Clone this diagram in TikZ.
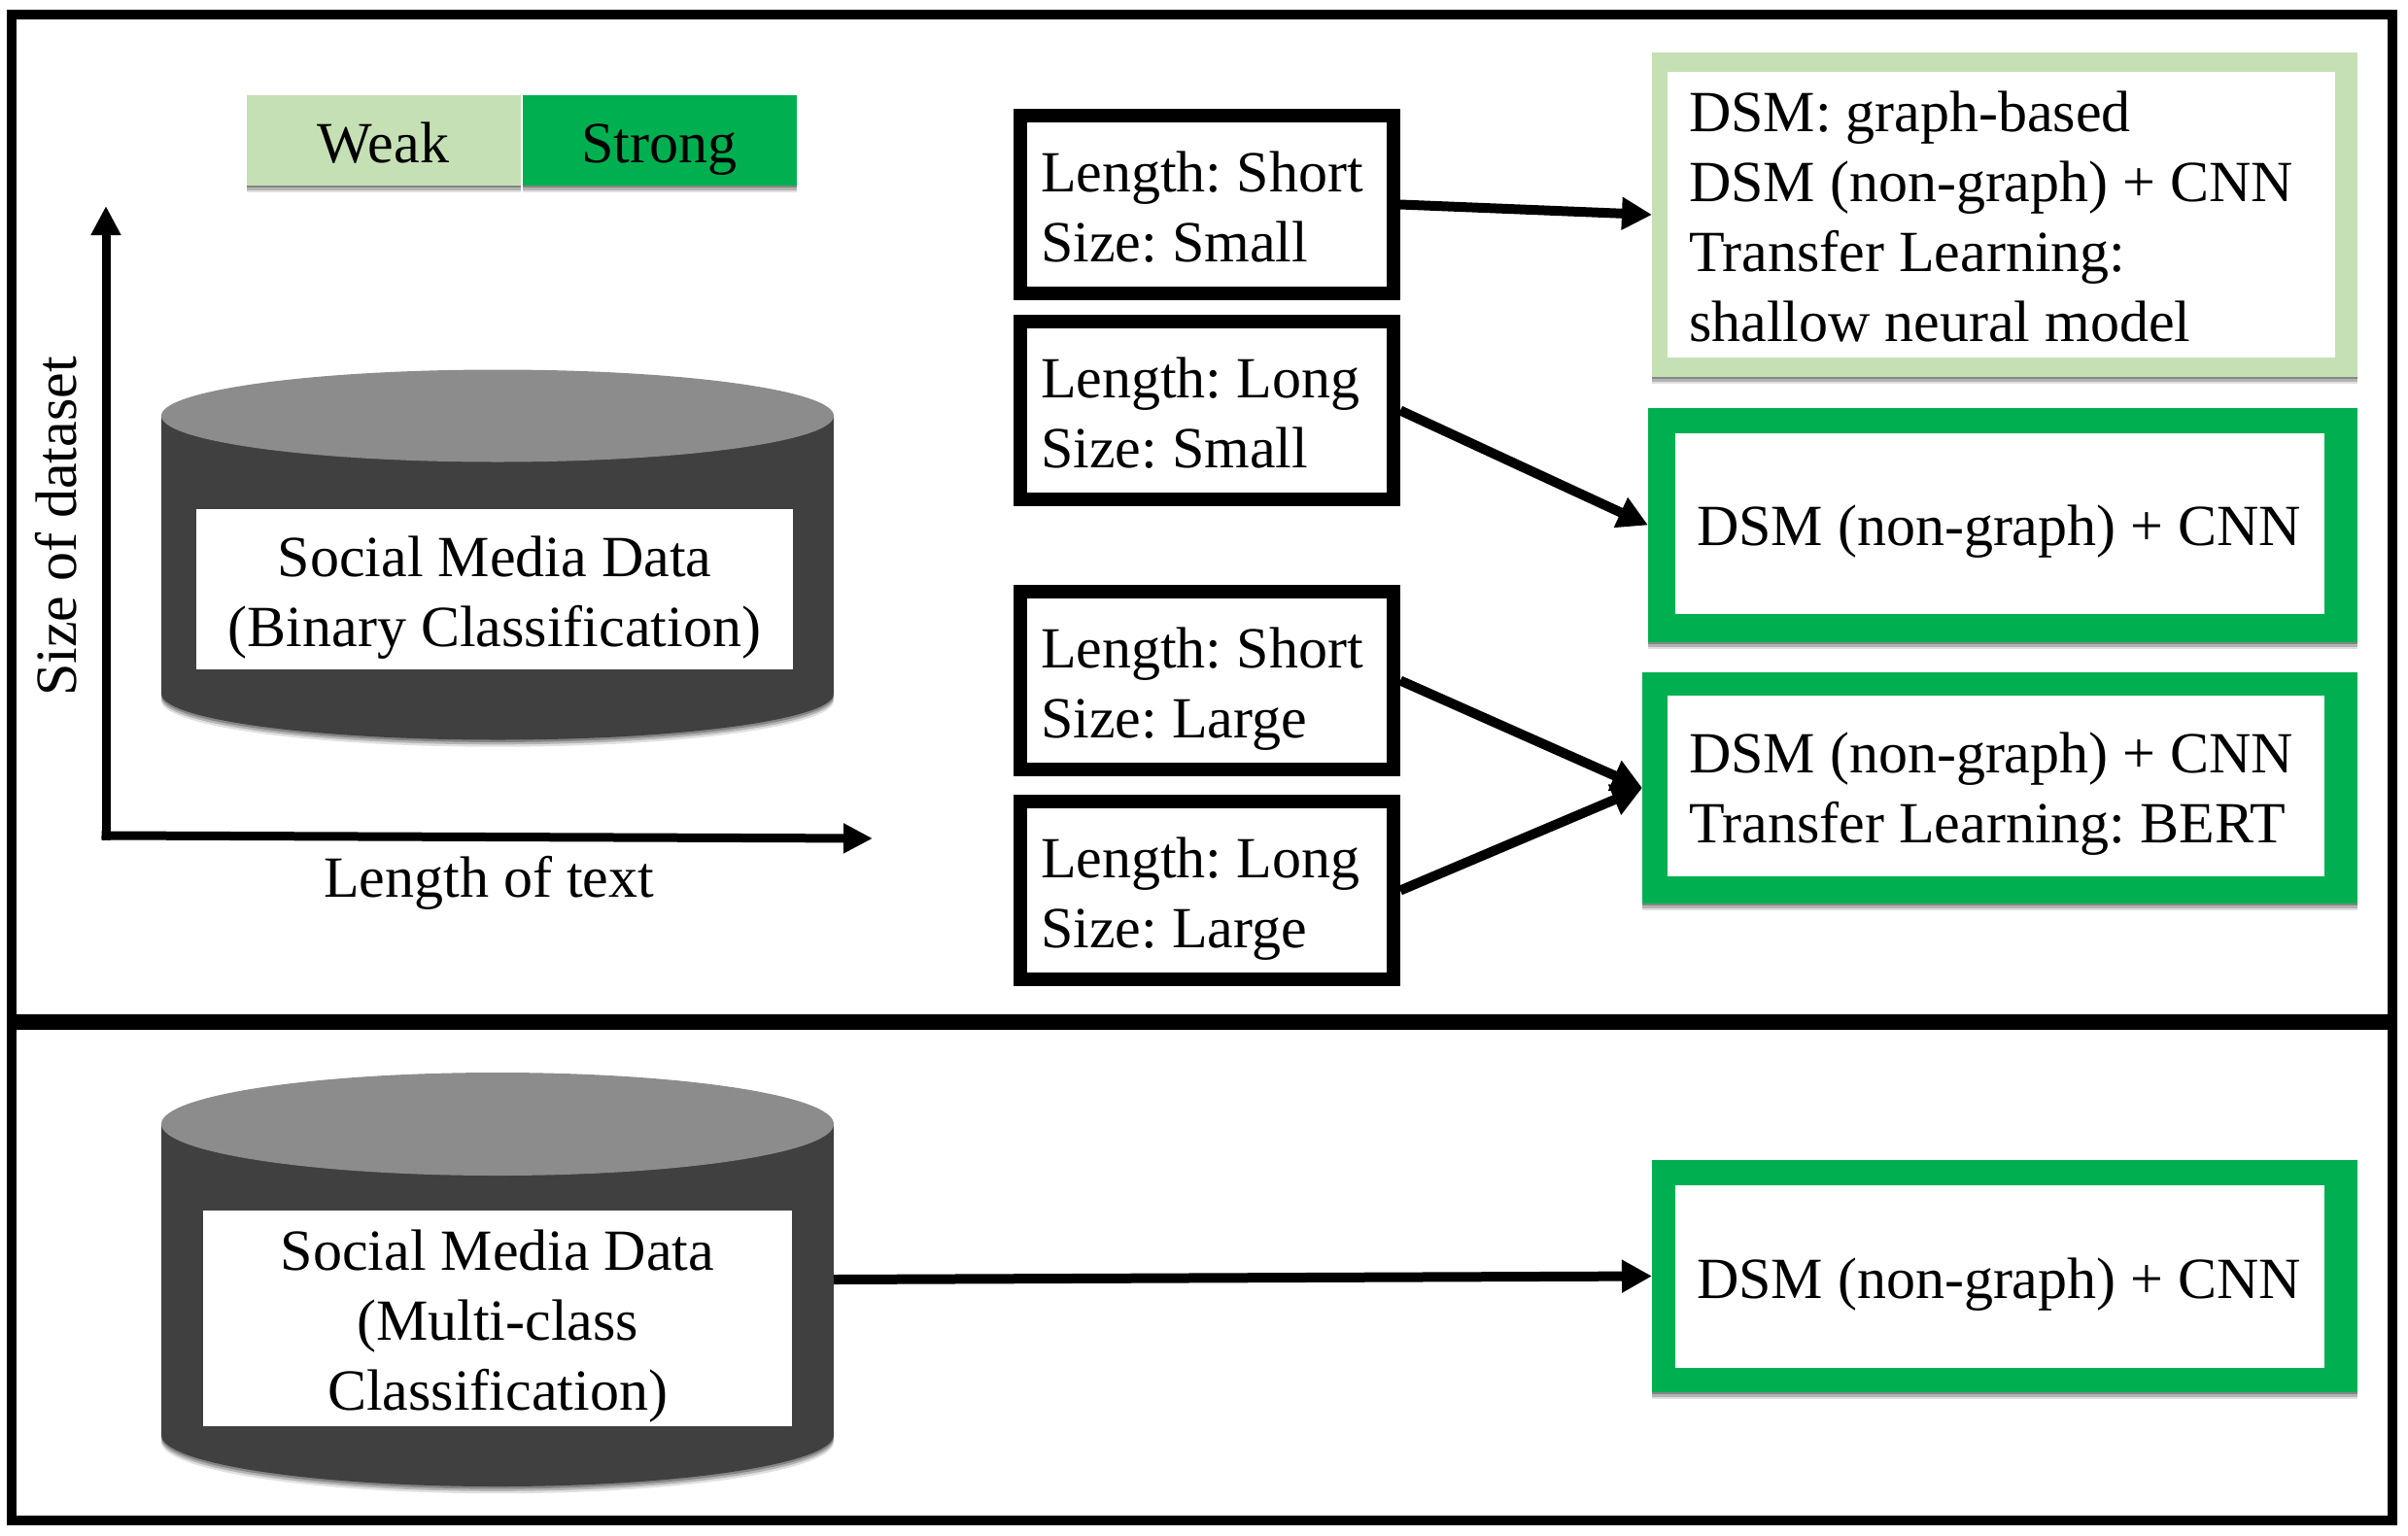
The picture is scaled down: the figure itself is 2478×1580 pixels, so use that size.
\documentclass[tikz,border=0pt]{standalone}
\usepackage{fontspec}
\setmainfont{Liberation Serif}
\usepackage{xcolor}
\usepackage{tikz}
\usetikzlibrary{arrows.meta,positioning,shapes.geometric,shadows}
\definecolor{weakgreen}{RGB}{197,224,180}
\definecolor{stronggreen}{RGB}{0,176,80}
\definecolor{dbbody}{RGB}{64,64,64}
\definecolor{dbtop}{RGB}{140,140,140}
\tikzset{
  % --- Text: one strut at each end keeps the lines at the same height ----------
  bigtext/.style={
    font=\fontsize{30}{36}\selectfont\frenchspacing,
    execute at begin node={\rule[-6.5pt]{0pt}{35.5pt}},
    execute at end node={\rule[-6.5pt]{0pt}{35.5pt}},
  },
  softshadow/.style={
    drop shadow={shadow xshift=0pt, shadow yshift=-1.2pt, opacity=.25, fill=black},
    drop shadow={shadow xshift=0pt, shadow yshift=-2.4pt, opacity=.2, fill=black},
    drop shadow={shadow xshift=0pt, shadow yshift=-3.6pt, opacity=.12, fill=black}
  },
  % --- Legend ------------------------------------------------------------------
  legendbox/.style={
    rectangle, bigtext, align=flush center, softshadow, inner sep=0pt, outer sep=0pt,
    text width=141pt, minimum height=46.5pt
  },
  % --- Data stores -------------------------------------------------------------
  dbbase/.style={
    ellipse, fill=dbbody, softshadow, inner sep=0pt, outer sep=0pt, minimum width=346pt
  },
  dbside/.style={
    rectangle, fill=dbbody, inner sep=0pt, outer sep=0pt, minimum width=346pt
  },
  dbend/.style={
    ellipse, fill=dbtop, inner sep=0pt, outer sep=0pt, minimum width=346pt
  },
  dblabel/.style={
    rectangle, fill=white, bigtext, align=flush center, inner sep=0pt, outer sep=0pt
  },
  % --- Length / size cases -----------------------------------------------------
  casebox/.style={
    rectangle, draw=black, line width=7pt, fill=white, bigtext, align=flush left,
    inner xsep=10.5pt, inner ysep=0pt, text width=171pt, minimum height=91.5pt
  },
  % --- Results -----------------------------------------------------------------
  resframe/.style={
    rectangle, fill=#1, softshadow, inner sep=0pt, outer sep=0pt
  },
  resbox/.style={
    rectangle, fill=white, bigtext, align=flush left, inner xsep=11pt, inner ysep=0pt,
    outer sep=0pt
  },
  % --- Lines -------------------------------------------------------------------
  boldarrow/.style={-{Triangle[length=15.5pt,width=16pt]}, draw=black, line width=5pt},
  axisarrow/.style={-{Triangle[length=15pt,width=14.5pt]}, draw=black, line width=4.5pt,
    line cap=rect},
  axistext/.style={bigtext, inner sep=0pt},
}
\begin{document}
\begin{tikzpicture}[x=0.5pt, y=-0.5pt]
    \useasboundingbox[fill=white] (0,0) rectangle (2478,1580);

    % panels
    \node[rectangle, draw=black, line width=5pt, minimum width=1225pt, minimum height=775pt,
      inner sep=0pt] (panel) at (1237,789.5) {};
    \coordinate (divleft) at (12,1052);
    \coordinate (divright) at (2462,1052);
    \draw[black, line width=8pt] (divleft) -- (divright);

    % legend
    \node[legendbox, fill=weakgreen] (legendweak) at (394.5,144.5) {Weak};
    \node[legendbox, fill=stronggreen, right=1pt of legendweak] (legendstrong) {Strong};

    % axes
    \coordinate (origin) at (109,860);
    \coordinate (ytip) at (109,212);
    \coordinate (xtip) at (898,863);
    \draw[axisarrow] (origin) -- (ytip);
    \draw[axisarrow] (origin) -- (xtip);
    \node[axistext, rotate=90] (sizelabel) at (56,542) {Size of dataset};
    \node[axistext] (lengthlabel) at (503,900.5) {Length of text};

    % binary classification store
    \node[dbbase, minimum height=47.5pt] (dbbinarybase) at (512,714) {};
    \node[dbside, minimum height=143pt] (dbbinary) at (512,571) {};
    \node[dbend, minimum height=47.5pt] (dbbinarytop) at (512,428) {};
    \node[dblabel, text width=307pt, minimum height=82.5pt] (binarylabel) at (509,606.5)
      {Social Media Data\\(Binary Classification)};

    % cases
    \node[casebox] (shortsmall) at (1242,210.5) {Length: Short\\Size: Small};
    \node[casebox, below=7.5pt of shortsmall] (longsmall) {Length: Long\\Size: Small};
    \node[casebox, below=40.5pt of longsmall] (shortlarge) {Length: Short\\Size: Large};
    \node[casebox, below=9.5pt of shortlarge] (longlarge) {Length: Long\\Size: Large};

    % results
    \node[resframe=weakgreen, minimum width=363pt, minimum height=167pt] (resaframe) at (2063,221) {};
    \node[resbox, text width=321.5pt, minimum height=147pt] (resa) at (2059.5,221)
      {DSM: graph-based\\DSM (non-graph) + CNN\\Transfer Learning:\\shallow neural model};
    \node[resframe=stronggreen, minimum width=365pt, minimum height=120.5pt] (resbframe) at (2061,540.5) {};
    \node[resbox, text width=312pt, minimum height=93pt] (resb) at (2058,539) {DSM (non-graph) + CNN};
    \node[resframe=stronggreen, minimum width=368pt, minimum height=119pt] (rescframe) at (2058,811) {};
    \node[resbox, text width=316pt, minimum height=93pt] (resc) at (2054,809)
      {DSM (non-graph) + CNN\\Transfer Learning: BERT};

    \draw[boldarrow] (shortsmall.east) -- (resaframe.west);
    \draw[boldarrow] (longsmall.east) -- (resbframe.west);
    \draw[boldarrow] (shortlarge.east) -- (rescframe.west);
    \draw[boldarrow] (longlarge.east) -- (rescframe.west);

    % multi-class store
    \node[dbbase, minimum height=53pt] (dbmultibase) at (512,1477) {};
    \node[dbside, minimum height=160pt] (dbmulti) at (512,1317) {};
    \node[dbend, minimum height=53pt] (dbmultitop) at (512,1157) {};
    \node[dblabel, text width=303pt, minimum height=111pt] (multilabel) at (512,1357)
      {Social Media Data\\(Multi-class\\Classification)};
    \node[resframe=stronggreen, minimum width=363pt, minimum height=119.5pt] (resdframe) at (2063,1313.5) {};
    \node[resbox, text width=312pt, minimum height=94pt] (resd) at (2058,1314) {DSM (non-graph) + CNN};

    \draw[boldarrow] (dbmulti.east) -- (resdframe.west);
\end{tikzpicture}
\end{document}
